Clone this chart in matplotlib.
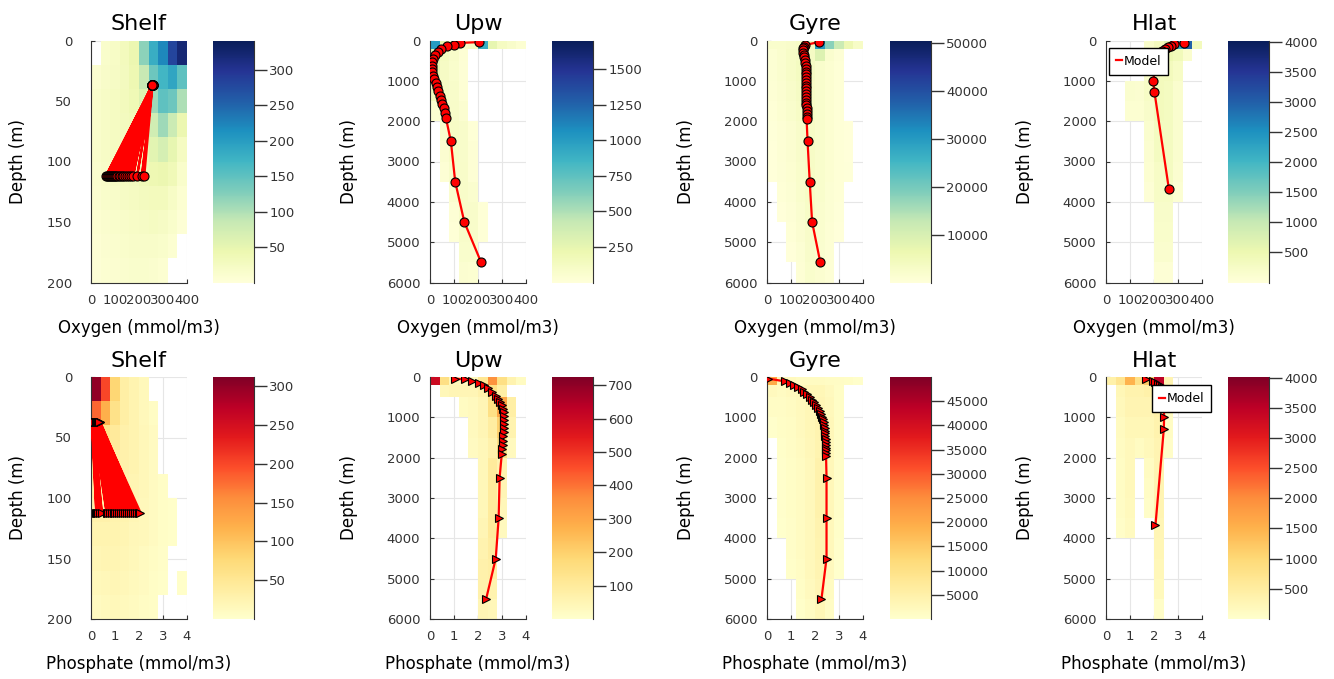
import numpy as np
import matplotlib.pyplot as plt
from matplotlib.lines import Line2D

regions = ['Shelf', 'Upw', 'Gyre', 'Hlat']

# histogram bin edges of the observations
o2_edges = [0, 40, 80, 120, 160, 200, 240, 280, 320, 360, 400]
po4_edges = [0, 0.4, 0.8, 1.2, 1.6, 2.0, 2.4, 2.8, 3.2, 3.6, 4.0]
shelf_depth_edges = [0, 20, 40, 60, 80, 100, 120, 140, 160, 180, 200]
deep_depth_edges = [0, 200, 500, 1000, 1500, 2000, 2500, 3000, 3500, 4000, 4500, 5000, 5500, 6000]

# observation counts (rows = depth bins, cols = concentration bins)
shelf_o2_counts = [
    [0, 15, 20, 30, 45, 120, 180, 220, 280, 320],
    [10, 18, 22, 28, 40, 85, 140, 170, 190, 150],
    [15, 20, 25, 30, 38, 60, 110, 150, 140, 100],
    [15, 20, 25, 28, 32, 45, 75, 110, 80, 45],
    [15, 20, 24, 28, 32, 40, 55, 70, 50, 25],
    [12, 18, 22, 25, 28, 35, 40, 45, 35, 15],
    [10, 15, 18, 22, 25, 28, 30, 30, 20, 8],
    [8, 12, 15, 18, 20, 22, 24, 22, 15, 5],
    [6, 10, 12, 15, 18, 18, 18, 15, 8, 0],
    [4, 8, 10, 12, 14, 14, 12, 8, 0, 0],
]
upw_o2_counts = [
    [1000, 250, 120, 100, 120, 900, 250, 120, 80, 40],
    [300, 120, 80, 30, 0, 0, 0, 0, 0, 0],
    [250, 110, 70, 20, 0, 0, 0, 0, 0, 0],
    [150, 110, 80, 30, 0, 0, 0, 0, 0, 0],
    [40, 90, 90, 50, 0, 0, 0, 0, 0, 0],
    [0, 70, 100, 80, 15, 0, 0, 0, 0, 0],
    [0, 50, 100, 80, 30, 0, 0, 0, 0, 0],
    [0, 30, 80, 90, 30, 0, 0, 0, 0, 0],
    [0, 0, 60, 90, 60, 0, 0, 0, 0, 0],
    [0, 0, 30, 90, 80, 15, 0, 0, 0, 0],
    [0, 0, 15, 80, 80, 15, 0, 0, 0, 0],
    [0, 0, 0, 70, 70, 0, 0, 0, 0, 0],
    [0, 0, 0, 50, 40, 0, 0, 0, 0, 0],
]
gyre_o2_counts = [
    [2000, 2000, 2500, 3000, 4000, 30000, 18000, 12000, 6000, 3000],
    [1000, 1800, 2800, 3500, 3500, 9000, 1800, 700, 0, 0],
    [1000, 1800, 2800, 3800, 3500, 2000, 1200, 400, 0, 0],
    [900, 1500, 2500, 3500, 3000, 2000, 1200, 400, 0, 0],
    [500, 1200, 2000, 3000, 3000, 2000, 1200, 400, 0, 0],
    [300, 900, 1500, 2500, 3000, 2000, 1200, 500, 150, 0],
    [150, 800, 1400, 2500, 3000, 2000, 1200, 500, 150, 0],
    [80, 600, 1200, 2300, 3000, 2000, 1200, 500, 200, 0],
    [0, 400, 1000, 2000, 3000, 2000, 1100, 400, 0, 0],
    [0, 150, 700, 1700, 2800, 1900, 1000, 300, 0, 0],
    [0, 0, 400, 1400, 2600, 1800, 900, 150, 0, 0],
    [0, 0, 150, 1100, 2400, 1700, 800, 0, 0, 0],
    [0, 0, 0, 800, 2000, 1500, 600, 0, 0, 0],
]
hlat_o2_counts = [
    [0, 0, 0, 0, 200, 350, 700, 2200, 3000, 350],
    [0, 0, 0, 0, 150, 350, 500, 400, 150, 0],
    [0, 0, 0, 0, 200, 350, 350, 250, 0, 0],
    [0, 0, 150, 120, 250, 350, 300, 150, 0, 0],
    [0, 0, 100, 100, 200, 350, 300, 150, 0, 0],
    [0, 0, 0, 0, 150, 300, 300, 150, 0, 0],
    [0, 0, 0, 0, 120, 300, 300, 150, 0, 0],
    [0, 0, 0, 0, 100, 250, 300, 120, 0, 0],
    [0, 0, 0, 0, 60, 250, 250, 80, 0, 0],
    [0, 0, 0, 0, 0, 200, 200, 0, 0, 0],
    [0, 0, 0, 0, 0, 180, 180, 0, 0, 0],
    [0, 0, 0, 0, 0, 150, 150, 0, 0, 0],
    [0, 0, 0, 0, 0, 60, 60, 0, 0, 0],
]
shelf_po4_counts = [
    [300, 200, 80, 35, 25, 15, 0, 0, 0, 0],
    [180, 120, 60, 35, 25, 15, 8, 0, 0, 0],
    [90, 60, 45, 30, 25, 18, 10, 0, 0, 0],
    [55, 45, 35, 30, 25, 18, 10, 0, 0, 0],
    [40, 35, 30, 28, 22, 18, 10, 5, 0, 0],
    [30, 30, 28, 25, 20, 15, 10, 5, 3, 0],
    [25, 25, 25, 22, 18, 15, 10, 5, 3, 0],
    [20, 22, 22, 20, 16, 12, 8, 4, 0, 0],
    [15, 18, 20, 18, 14, 10, 6, 3, 0, 3],
    [10, 14, 16, 14, 12, 8, 5, 0, 0, 0],
]
upw_po4_counts = [
    [600, 150, 40, 30, 30, 120, 350, 150, 60, 20],
    [0, 40, 50, 50, 50, 70, 150, 80, 0, 0],
    [0, 0, 0, 20, 30, 50, 150, 300, 80, 0],
    [0, 0, 0, 0, 30, 50, 90, 200, 60, 0],
    [0, 0, 0, 0, 25, 40, 70, 150, 30, 0],
    [0, 0, 0, 0, 0, 40, 100, 60, 0, 0],
    [0, 0, 0, 0, 0, 40, 100, 50, 0, 0],
    [0, 0, 0, 0, 0, 40, 100, 40, 0, 0],
    [0, 0, 0, 0, 0, 50, 100, 30, 0, 0],
    [0, 0, 0, 0, 0, 60, 90, 0, 0, 0],
    [0, 0, 0, 0, 0, 70, 80, 0, 0, 0],
    [0, 0, 0, 0, 0, 70, 60, 0, 0, 0],
    [0, 0, 0, 0, 0, 50, 40, 0, 0, 0],
]
gyre_po4_counts = [
    [20000, 3000, 2000, 1500, 1500, 1500, 1200, 1000, 800, 300],
    [2000, 1500, 2000, 2500, 3000, 3000, 2000, 800, 0, 0],
    [1000, 1000, 1500, 2200, 3000, 3500, 2500, 800, 0, 0],
    [200, 800, 1200, 2000, 3000, 4000, 2800, 800, 0, 0],
    [0, 500, 1000, 1800, 2800, 4000, 2800, 800, 0, 0],
    [0, 300, 900, 1500, 2500, 4500, 2800, 700, 0, 0],
    [0, 300, 900, 1500, 2500, 4500, 2800, 700, 0, 0],
    [0, 200, 800, 1500, 2500, 4500, 2800, 600, 0, 0],
    [0, 100, 700, 1500, 2500, 4200, 2500, 500, 0, 0],
    [0, 0, 600, 1500, 2500, 4000, 2500, 300, 0, 0],
    [0, 0, 500, 1200, 2500, 3800, 2000, 150, 0, 0],
    [0, 0, 0, 800, 2000, 3500, 1500, 0, 0, 0],
    [0, 0, 0, 500, 1500, 3000, 1000, 0, 0, 0],
]
hlat_po4_counts = [
    [400, 700, 1500, 800, 1200, 3500, 300, 0, 0, 0],
    [0, 250, 350, 350, 400, 450, 200, 0, 0, 0],
    [0, 200, 300, 300, 300, 400, 150, 0, 0, 0],
    [0, 150, 250, 250, 250, 350, 100, 0, 0, 0],
    [0, 120, 200, 120, 200, 300, 60, 0, 0, 0],
    [0, 100, 200, 0, 120, 300, 0, 0, 0, 0],
    [0, 100, 200, 0, 80, 300, 0, 0, 0, 0],
    [0, 80, 180, 0, 60, 300, 0, 0, 0, 0],
    [0, 60, 150, 0, 0, 280, 0, 0, 0, 0],
    [0, 0, 0, 0, 0, 260, 0, 0, 0, 0],
    [0, 0, 0, 0, 0, 220, 0, 0, 0, 0],
    [0, 0, 0, 0, 0, 180, 0, 0, 0, 0],
    [0, 0, 0, 0, 0, 60, 0, 0, 0, 0],
]

# colour limits of the heatmaps
o2_clim = [341, 1700, 50500, 4030]
po4_clim = [312, 725, 50000, 4011]
o2_cbar_ticks = [[50, 100, 150, 200, 250, 300],
                 [250, 500, 750, 1000, 1250, 1500],
                 [10000, 20000, 30000, 40000, 50000],
                 [500, 1000, 1500, 2000, 2500, 3000, 3500, 4000]]
po4_cbar_ticks = [[50, 100, 150, 200, 250, 300],
                  [100, 200, 300, 400, 500, 600, 700],
                  [5000, 10000, 15000, 20000, 25000, 30000, 35000, 40000, 45000],
                  [500, 1000, 1500, 2000, 2500, 3000, 3500, 4000]]

# model output: shelf has two levels, many profiles in time
shelf_depth = [37, 112]
shelf_o2_surface = [256, 255, 257, 256, 254, 256, 257, 255, 256, 256, 258, 255,
                    256, 257, 255, 256, 254, 256, 257, 256, 255, 256, 257, 256]
shelf_o2_bottom = [62, 66, 70, 75, 80, 84, 88, 92, 96, 100, 105, 110,
                   116, 122, 128, 135, 142, 150, 158, 165, 175, 192, 212, 222]
shelf_po4_surface = [0.03, 0.05, 0.04, 0.08, 0.10, 0.06, 0.12, 0.15, 0.10, 0.18, 0.20, 0.14,
                     0.22, 0.25, 0.20, 0.28, 0.30, 0.26, 0.32, 0.34, 0.30, 0.36, 0.38, 0.35]
shelf_po4_bottom = [0.22, 0.25, 0.30, 0.38, 0.45, 0.65, 0.72, 0.80, 0.88, 0.95, 1.02, 1.10,
                    1.18, 1.25, 1.32, 1.40, 1.50, 1.58, 1.66, 1.75, 1.82, 1.90, 2.00, 2.06]

upw_depth = [40, 60, 100, 140, 200, 280, 370, 460, 540, 620, 700, 790, 870, 960,
             1060, 1160, 1260, 1370, 1470, 1580, 1680, 1790, 1910, 2500, 3500, 4500, 5500]
upw_o2 = [203, 126, 98, 70, 46, 32, 21, 14, 10, 7, 7, 10, 14, 18,
          24, 29, 35, 41, 46, 52, 58, 63, 66, 87, 105, 143, 213]
upw_po4 = [1.05, 1.45, 1.75, 2.04, 2.25, 2.43, 2.60, 2.74, 2.85, 2.92, 2.99, 3.05, 3.07, 3.09,
           3.09, 3.09, 3.08, 3.07, 3.06, 3.05, 3.03, 3.01, 2.99, 2.90, 2.86, 2.74, 2.34]

gyre_depth = [40, 110, 150, 190, 240, 300, 360, 420, 490, 560, 630, 700, 770, 840, 910,
              980, 1050, 1120, 1190, 1260, 1330, 1400, 1470, 1540, 1610, 1680, 1750,
              1820, 1890, 1950, 2500, 3500, 4500, 5500]
gyre_o2 = [215, 160, 155, 152, 151, 152, 153, 155, 157, 159, 161, 162, 163, 164, 164,
           164, 164, 164, 164, 164, 164, 164, 164, 164, 164, 165, 165,
           165, 165, 165, 169, 178, 188, 222]
gyre_po4 = [0.06, 0.75, 0.96, 1.14, 1.29, 1.44, 1.56, 1.67, 1.78, 1.88, 1.97, 2.06, 2.13, 2.20, 2.25,
            2.29, 2.33, 2.36, 2.38, 2.40, 2.41, 2.42, 2.43, 2.44, 2.45, 2.45, 2.46,
            2.46, 2.46, 2.46, 2.48, 2.48, 2.48, 2.27]

hlat_depth = [50, 90, 130, 170, 210, 250, 300, 1000, 1280, 3680]
hlat_o2 = [323, 283, 270, 258, 245, 232, 220, 196, 202, 262]
hlat_po4 = [1.67, 1.95, 2.05, 2.15, 2.25, 2.33, 2.40, 2.42, 2.41, 2.06]

o2_counts = [shelf_o2_counts, upw_o2_counts, gyre_o2_counts, hlat_o2_counts]
po4_counts = [shelf_po4_counts, upw_po4_counts, gyre_po4_counts, hlat_po4_counts]
depth_edges = [shelf_depth_edges, deep_depth_edges, deep_depth_edges, deep_depth_edges]
model_depth = [None, upw_depth, gyre_depth, hlat_depth]
model_o2 = [None, upw_o2, gyre_o2, hlat_o2]
model_po4 = [None, upw_po4, gyre_po4, hlat_po4]
depth_max = [200, 6000, 6000, 6000]
depth_ticks = [[0, 50, 100, 150, 200], [0, 1000, 2000, 3000, 4000, 5000, 6000]]

W, H = 1334, 679
fig = plt.figure(figsize=(W / 100, H / 100), dpi=100)
ax_left = [91, 430, 767, 1106]
cb_left = [213, 552, 890, 1228]
row_top = [40.5, 377]
ax_h = 242

rows = [
    dict(counts=o2_counts, edges=o2_edges, cmap='YlGnBu', clim=o2_clim, cticks=o2_cbar_ticks,
         xmax=400, xticks=[0, 100, 200, 300, 400], xlabel='Oxygen (mmol/m3)', marker='o', ms=6.5,
         surface=shelf_o2_surface, bottom=shelf_o2_bottom, model=model_o2,
         legend_at=(0.03, 0.97)),
    dict(counts=po4_counts, edges=po4_edges, cmap='YlOrRd', clim=po4_clim, cticks=po4_cbar_ticks,
         xmax=4, xticks=[0, 1, 2, 3, 4], xlabel='Phosphate (mmol/m3)', marker='>', ms=5.5,
         surface=shelf_po4_surface, bottom=shelf_po4_bottom, model=model_po4,
         legend_at=(0.48, 0.965)),
]

for r, spec in enumerate(rows):
    top = row_top[r]
    for c, name in enumerate(regions):
        ax = fig.add_axes([ax_left[c] / W, (H - top - ax_h) / H, 96 / W, ax_h / H])
        counts = np.ma.masked_equal(np.array(spec['counts'][c], dtype=float), 0)
        mesh = ax.pcolormesh(spec['edges'], depth_edges[c], counts, cmap=spec['cmap'],
                             vmin=0, vmax=spec['clim'][c])

        if c == 0:
            xs, ds = [], []
            for s, b in zip(spec['surface'], spec['bottom']):
                xs += [s, b]
                ds += shelf_depth
        else:
            xs, ds = spec['model'][c], model_depth[c]
        ax.plot(xs, ds, color='red', lw=1.6, marker=spec['marker'], ms=spec['ms'],
                mfc='red', mec='black', mew=0.8, zorder=3)

        ax.set_xlim(0, spec['xmax'])
        ax.set_ylim(depth_max[c], 0)
        ax.set_xticks(spec['xticks'])
        ax.set_yticks(depth_ticks[0] if c == 0 else depth_ticks[1])
        ax.set_axisbelow(True)
        ax.grid(True, color='#e6e6e6', lw=0.8)
        for side in ['top', 'right']:
            ax.spines[side].set_visible(False)
        for side in ['left', 'bottom']:
            ax.spines[side].set_color('#333333')
        ax.tick_params(direction='in', length=3, colors='#333333', labelsize=9.5)
        ax.tick_params(axis='x', pad=8)
        ax.tick_params(axis='y', pad=13.5 if c == 0 else 7)
        ax.set_title(name, fontsize=16, pad=7.5)
        ax.set_xlabel(spec['xlabel'], fontsize=12)
        ax.set_ylabel('Depth (m)', fontsize=12)
        ax.xaxis.set_label_coords(0.5, -0.15)
        ax.yaxis.set_label_coords(-0.67 if c == 0 else -0.745, 0.5)

        if name == 'Hlat':
            handle = Line2D([], [], color='red', lw=1.6)
            leg = ax.legend([handle], ['Model'], loc='upper left', bbox_to_anchor=spec['legend_at'],
                            fontsize=9, frameon=True, fancybox=False, framealpha=1,
                            edgecolor='black', handlelength=0.5, handletextpad=0.1,
                            borderpad=0.55, borderaxespad=0)
            leg.get_frame().set_linewidth(1.0)
            leg.set_zorder(5)

        cax = fig.add_axes([cb_left[c] / W, (H - top - ax_h) / H, 41 / W, ax_h / H])
        cb = fig.colorbar(mesh, cax=cax, ticks=spec['cticks'][c])
        cb.outline.set_visible(False)
        cax.spines['right'].set_visible(True)
        cax.spines['right'].set_color('#333333')
        cax.tick_params(length=9, width=1, colors='#333333', labelsize=9.5, pad=2)

fig.savefig('out.png', dpi=100)
